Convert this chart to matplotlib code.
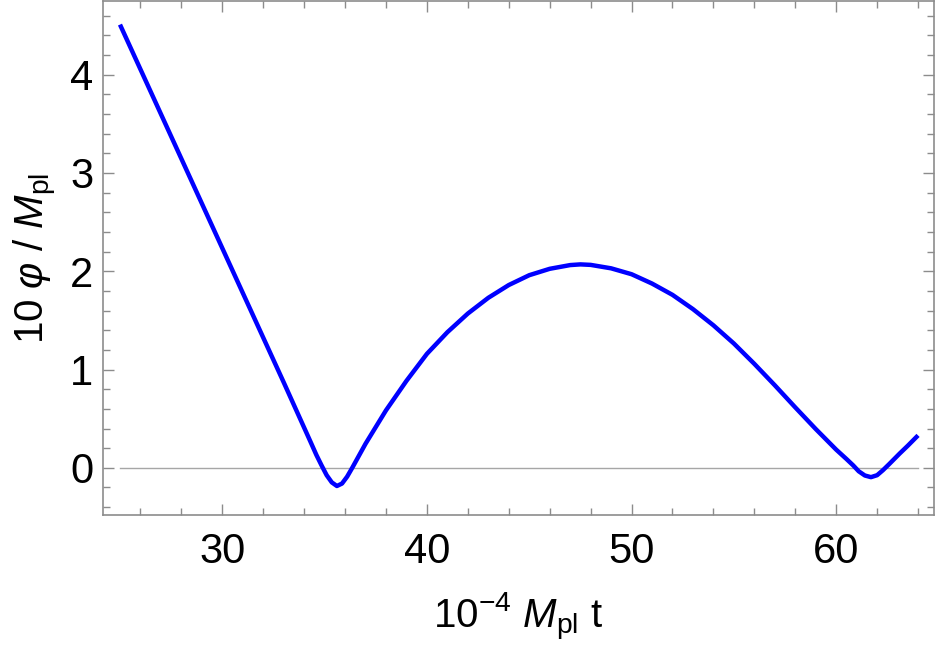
import matplotlib
matplotlib.use("Agg")
import matplotlib.pyplot as plt
from matplotlib.ticker import MultipleLocator

# data
t_vals = [25.0, 27.0, 29.0, 31.0, 33.0, 34.3, 34.6, 34.85, 35.1, 35.35,
          35.6, 35.85, 36.1, 36.35, 37.0, 38.0, 39.0, 40.0, 41.0, 42.0,
          43.0, 44.0, 45.0, 46.0, 47.0, 47.5, 48.0, 49.0, 50.0, 51.0,
          52.0, 53.0, 54.0, 55.0, 56.0, 57.0, 58.0, 59.0, 60.0, 60.5,
          60.83, 61.1, 61.4, 61.7, 62.0, 62.28, 62.6, 63.1, 63.5, 64.0]
phi_vals = [4.51, 3.60, 2.69, 1.78, 0.87, 0.27, 0.13, 0.025, -0.075, -0.148,
            -0.185, -0.16, -0.09, 0.0, 0.245, 0.585, 0.885, 1.16, 1.38, 1.57,
            1.73, 1.86, 1.96, 2.025, 2.063, 2.07, 2.065, 2.03, 1.97, 1.875,
            1.76, 1.615, 1.45, 1.265, 1.058, 0.84, 0.615, 0.395, 0.185, 0.09,
            0.025, -0.035, -0.078, -0.095, -0.075, -0.025, 0.04, 0.145, 0.225, 0.33]

x_major = [30, 40, 50, 60]
y_major = [0, 1, 2, 3, 4]

plt.rcParams['font.family'] = ['Liberation Sans', 'DejaVu Sans']
plt.rcParams['mathtext.fontset'] = 'custom'
plt.rcParams['mathtext.rm'] = 'Liberation Sans'
plt.rcParams['mathtext.it'] = 'Liberation Sans:italic'
plt.rcParams['mathtext.bf'] = 'Liberation Sans:bold'

fig = plt.figure(figsize=(9.38, 6.53), dpi=100)
ax = fig.add_axes([103/938, 1 - 515/653, (934-103)/938, (515-1)/653])

frame_col = '#8c8c8c'
# zero axis line spanning the plotted range
ax.plot([min(t_vals), max(t_vals)], [0, 0], color='#a6a6a6', lw=1.0, zorder=1)
ax.plot(t_vals, phi_vals, color='#0000ff', lw=3.2, solid_joinstyle='round',
        solid_capstyle='butt', zorder=2)

ax.set_xlim(24.17, 64.78)
ax.set_ylim(-0.48, 4.75)
ax.set_xticks(x_major)
ax.set_yticks(y_major)
ax.xaxis.set_minor_locator(MultipleLocator(2))
ax.yaxis.set_minor_locator(MultipleLocator(0.2))

for s in ax.spines.values():
    s.set_color(frame_col)
    s.set_linewidth(1.2)

ax.tick_params(which='both', direction='in', top=True, right=True,
               color=frame_col, width=1.0, labelsize=30, labelcolor='black')
ax.tick_params(which='major', length=8)
ax.tick_params(which='minor', length=5)
ax.tick_params(axis='x', which='major', pad=12)
ax.tick_params(axis='y', which='major', pad=7)

ax.set_xlabel(r'$10^{-4}$ $M_{\rm pl}$ t', fontsize=29, labelpad=14)
ax.set_ylabel(r'10 $\varphi$ / $M_{\rm pl}$', fontsize=29, labelpad=8)

fig.savefig('out.png', dpi=100)
